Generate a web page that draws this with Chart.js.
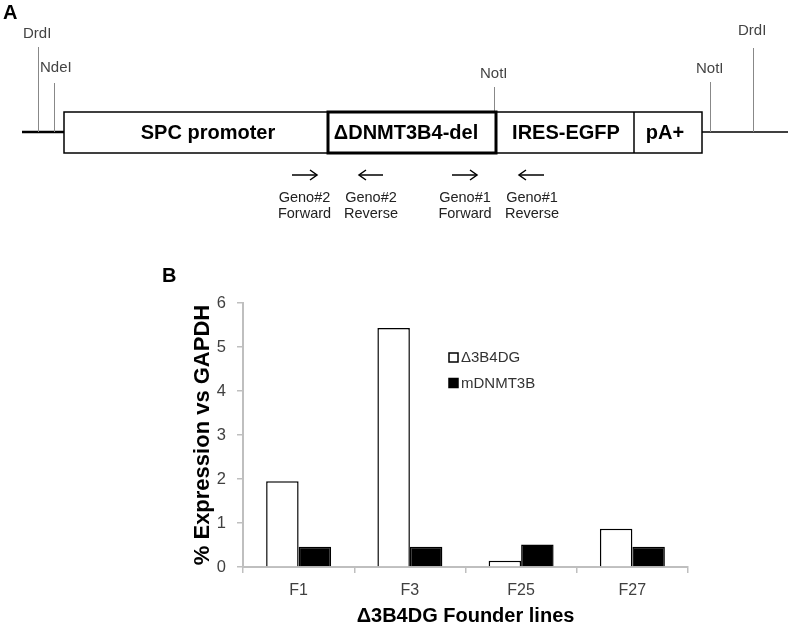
<!DOCTYPE html>
<html>
<head>
<meta charset="utf-8">
<script src="https://cdn.jsdelivr.net/npm/chart.js@4.4.0/dist/chart.umd.min.js"></script>
<style>
  html, body { margin: 0; padding: 0; background: #ffffff; }
  #wrap { position: relative; width: 788px; height: 626px; }
  canvas { display: block; }
</style>
</head>
<body>
<div id="wrap"><canvas id="c" width="788" height="626"></canvas></div>
<script>
// ---- data ----
const categories = ['F1', 'F3', 'F25', 'F27'];
const seriesNames = ['\u03943B4DG', 'mDNMT3B'];
const d3b4dgValues = [1.95, 5.43, 0.14, 0.87];
const mdnmt3bValues = [0.46, 0.46, 0.51, 0.46];
const yMin = 0, yMax = 6, yStep = 1;
const yTitle = '% Expression vs GAPDH';
const xTitle = '\u03943B4DG Founder lines';

const FONT = '"Liberation Sans", Arial, sans-serif';

// ---- construct diagram (panel A) ----
const diagramPlugin = {
  id: 'diagram',
  afterDraw(chart) {
    const ctx = chart.ctx;
    ctx.save();
    // panel letters
    ctx.fillStyle = '#000';
    ctx.textBaseline = 'alphabetic';
    ctx.textAlign = 'left';
    ctx.font = 'bold 20px ' + FONT;
    ctx.fillText('A', 3, 19);
    ctx.fillText('B', 162, 282);

    // backbone
    ctx.strokeStyle = '#000';
    ctx.lineWidth = 2.5;
    ctx.beginPath(); ctx.moveTo(22, 132); ctx.lineTo(64, 132); ctx.stroke();
    ctx.lineWidth = 1.5;
    ctx.beginPath(); ctx.moveTo(702, 132); ctx.lineTo(788, 132); ctx.stroke();

    // restriction sites
    ctx.strokeStyle = '#888';
    ctx.lineWidth = 1;
    const sites = [
      {x: 38, y0: 47, y1: 132, label: 'DrdI', tx: 23, ty: 38},
      {x: 54, y0: 83, y1: 132, label: 'NdeI', tx: 40, ty: 72},
      {x: 494, y0: 87, y1: 112, label: 'NotI', tx: 480, ty: 78},
      {x: 710, y0: 82, y1: 132, label: 'NotI', tx: 696, ty: 73},
      {x: 753, y0: 48, y1: 132, label: 'DrdI', tx: 738, ty: 35}
    ];
    ctx.font = '15px ' + FONT;
    ctx.fillStyle = '#444';
    sites.forEach(s => {
      ctx.beginPath(); ctx.moveTo(s.x + 0.5, s.y0); ctx.lineTo(s.x + 0.5, s.y1); ctx.stroke();
      ctx.fillText(s.label, s.tx, s.ty);
    });

    // boxes
    ctx.strokeStyle = '#000';
    ctx.fillStyle = '#fff';
    const top = 112, h = 41;
    ctx.lineWidth = 1.5;
    ctx.fillRect(64, top, 638, h);
    ctx.strokeRect(64, top, 638, h);
    ctx.beginPath();
    ctx.moveTo(634, top); ctx.lineTo(634, top + h);
    ctx.stroke();
    ctx.lineWidth = 3;
    ctx.strokeRect(328, top, 168, h);

    ctx.fillStyle = '#000';
    ctx.font = 'bold 20px ' + FONT;
    ctx.textAlign = 'center';
    ctx.textBaseline = 'middle';
    ctx.fillText('SPC promoter', 208, 133);
    ctx.fillText('\u0394DNMT3B4-del', 406, 133);
    ctx.fillText('IRES-EGFP', 566, 133);
    ctx.fillText('pA+', 665, 133);

    // primers
    const arrows = [
      {x0: 292, x1: 317, cx: 304.5, l1: 'Geno#2', l2: 'Forward'},
      {x0: 383, x1: 359, cx: 371, l1: 'Geno#2', l2: 'Reverse'},
      {x0: 452, x1: 477, cx: 465, l1: 'Geno#1', l2: 'Forward'},
      {x0: 544, x1: 519, cx: 532, l1: 'Geno#1', l2: 'Reverse'}
    ];
    ctx.lineWidth = 1.5;
    ctx.strokeStyle = '#000';
    ctx.font = '14.5px ' + FONT;
    ctx.fillStyle = '#222';
    ctx.textBaseline = 'alphabetic';
    arrows.forEach(a => {
      const y = 175;
      const d = a.x1 > a.x0 ? 1 : -1;
      ctx.beginPath(); ctx.moveTo(a.x0, y); ctx.lineTo(a.x1, y); ctx.stroke();
      ctx.beginPath();
      ctx.moveTo(a.x1 - d * 7, y - 5); ctx.lineTo(a.x1, y); ctx.lineTo(a.x1 - d * 7, y + 5);
      ctx.stroke();
      ctx.fillText(a.l1, a.cx, 202);
      ctx.fillText(a.l2, a.cx, 218);
    });
    ctx.restore();
  }
};

// ---- custom in-plot legend ----
const legendPlugin = {
  id: 'inlegend',
  afterDatasetsDraw(chart) {
    const ctx = chart.ctx;
    ctx.save();
    ctx.font = '15px ' + FONT;
    ctx.textBaseline = 'middle';
    ctx.textAlign = 'left';
    chart.data.datasets.forEach((ds, i) => {
      const y = 357.5 + i * 25.5;
      ctx.fillStyle = ds.backgroundColor;
      ctx.fillRect(449, y - 4.5, 9, 9);
      ctx.strokeStyle = '#000';
      ctx.lineWidth = 1.5;
      ctx.strokeRect(449, y - 4.5, 9, 9);
      ctx.fillStyle = '#333';
      ctx.fillText(ds.label, 461, y + 0.5);
    });
    ctx.restore();
  }
};

new Chart(document.getElementById('c'), {
  type: 'bar',
  data: {
    labels: categories,
    datasets: [
      {
        label: seriesNames[0],
        data: d3b4dgValues,
        backgroundColor: '#ffffff',
        borderColor: '#000000',
        borderWidth: 1.5
      },
      {
        label: seriesNames[1],
        data: mdnmt3bValues,
        backgroundColor: '#000000',
        borderColor: '#000000',
        borderWidth: 1.5
      }
    ]
  },
  options: {
    responsive: false,
    devicePixelRatio: 1,
    animation: false,
    layout: { padding: { left: 192, right: 100, top: 303, bottom: 0 } },
    datasets: { bar: { categoryPercentage: 0.584, barPercentage: 1.0 } },
    plugins: { legend: { display: false }, tooltip: { enabled: false } },
    scales: {
      x: {
        afterFit(s) { s.height = 59; },
        grid: { display: true, drawOnChartArea: false, drawTicks: true, tickLength: 6, color: '#bfbfbf', lineWidth: 1.5, offset: true },
        border: { display: true, color: '#bfbfbf', width: 2 },
        ticks: { font: { family: FONT, size: 16 }, color: '#404040', padding: 8 },
        title: { display: true, text: xTitle, font: { family: FONT, size: 20, weight: 'bold', lineHeight: 1 }, color: '#000', padding: { top: 0, bottom: 0 } }
      },
      y: {
        min: yMin, max: yMax,
        afterFit(s) { s.width = 51; },
        grid: { display: true, drawOnChartArea: false, drawTicks: true, tickLength: 6, color: '#bfbfbf', lineWidth: 1.5 },
        border: { display: true, color: '#bfbfbf', width: 2 },
        ticks: { stepSize: yStep, font: { family: FONT, size: 16.5 }, color: '#404040', padding: 11 },
        title: { display: true, text: yTitle, font: { family: FONT, size: 22, weight: 'bold', lineHeight: 1 }, color: '#000', padding: { top: 0, bottom: 0 } }
      }
    }
  },
  plugins: [diagramPlugin, legendPlugin]
});
</script>
</body>
</html>
